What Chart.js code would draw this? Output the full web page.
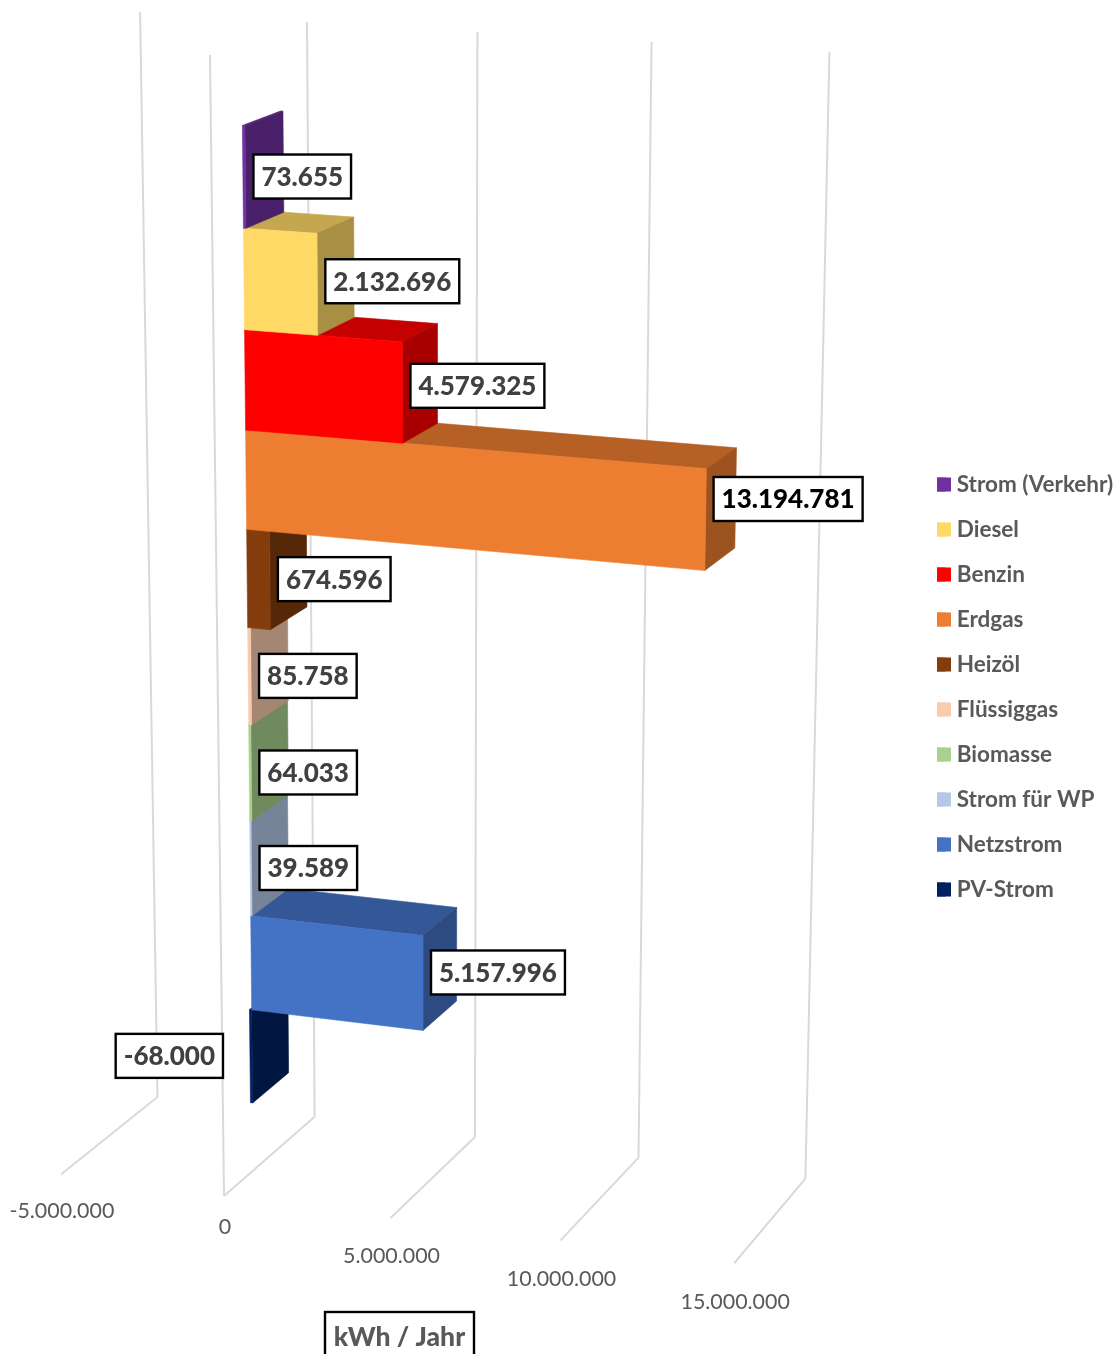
<!DOCTYPE html>
<html>
<head>
<meta charset="utf-8">
<title>kWh / Jahr</title>
<script src="https://cdn.jsdelivr.net/npm/chart.js@4/dist/chart.umd.js"></script>
<style>
    html, body { margin: 0; padding: 0; background: #fff; overflow: hidden; }
    canvas { display: block; }
</style>
</head>
<body>
<canvas id="chart" width="1120" height="1354"></canvas>
<script>
const categories = ['Strom (Verkehr)', 'Diesel', 'Benzin', 'Erdgas', 'Heizöl', 'Flüssiggas', 'Biomasse', 'Strom für WP', 'Netzstrom', 'PV-Strom'];
const values = [73655, 2132696, 4579325, 13194781, 674596, 85758, 64033, 39589, 5157996, -68000];
const valueLabels = ['73.655', '2.132.696', '4.579.325', '13.194.781', '674.596', '85.758', '64.033', '39.589', '5.157.996', '-68.000'];
const colors = ['#7030A0', '#FFD966', '#FF0000', '#ED7D31', '#843C0C', '#F8CBAD', '#A9D18E', '#B4C7E7', '#4472C4', '#002060'];
const xTicks = [-5000000, 0, 5000000, 10000000, 15000000];
const xTickLabels = ['-5.000.000', '0', '5.000.000', '10.000.000', '15.000.000'];
const axisTitle = 'kWh / Jahr';

const fontName = 'Lato, Carlito, sans-serif';
const textGray = '#595959';
const gridGray = '#D9D9D9';

// depth of the bars inside the box, and the part of its height they use
const barFront = 0.315, barBack = 0.71;
const barTop = 0.068, barBottom = 0.9365;

// where the legend swatches start, and how wide they are
const legendLeft = 937, swatchSize = 14, legendBoxWidth = 8.5;

// perspective of the box. X = steps of 5 million from zero, Y = 0 top..1 bottom, Z = 0 front..1 back
function project(X, Y, Z) {
    const d = 1 - 0.011 * X + 0.066 * Y + 0.047 * Z;
    return {
        x: (210 + 173.2 * X + 28.78 * Y + 111.43 * Z) / d,
        y: (55 + 10 * X + 1219.94 * Y - 31.97 * Z) / d
    };
}

function shade(hex, f) {
    const n = parseInt(hex.slice(1), 16);
    const c = [n >> 16, (n >> 8) & 255, n & 255].map(v => Math.round(v * f));
    return `rgb(${c[0]},${c[1]},${c[2]})`;
}

function quad(ctx, pts, fill) {
    ctx.beginPath();
    pts.forEach((p, i) => i ? ctx.lineTo(p.x, p.y) : ctx.moveTo(p.x, p.y));
    ctx.closePath();
    ctx.fillStyle = fill;
    ctx.fill();
    ctx.strokeStyle = fill;
    ctx.lineWidth = 0.6;
    ctx.stroke();
}

function stepsFromZero(chart, pixel) {
    const sx = chart.scales.x;
    const zero = sx.getPixelForValue(0);
    return (pixel - zero) / (sx.getPixelForValue(xTicks[2]) - zero);
}

function boxY(chart, pixel) {
    const a = chart.chartArea;
    return barTop + (pixel - a.top) / (a.bottom - a.top) * (barBottom - barTop);
}

function line(ctx, a, b) {
    ctx.beginPath();
    ctx.moveTo(a.x, a.y);
    ctx.lineTo(b.x, b.y);
    ctx.stroke();
}

function textBox(ctx, text, font, color, left, cy, w, h) {
    ctx.fillStyle = '#fff';
    ctx.fillRect(left, cy - h / 2, w, h);
    ctx.strokeStyle = '#000';
    ctx.lineWidth = 2.4;
    ctx.strokeRect(left, cy - h / 2, w, h);
    ctx.font = font;
    ctx.fillStyle = color;
    ctx.textAlign = 'center';
    ctx.textBaseline = 'middle';
    ctx.fillText(text, left + w / 2, cy + 1);
}

const box3d = {
    id: 'box3d',
    afterLayout(chart) {
        // the legend sits a little further right than the layout puts it
        const legend = chart.legend;
        const shift = legendLeft - legend.options.labels.padding - legend.left;
        legend.left += shift;
        legend.right += shift;
    },
    beforeDatasetsDraw(chart) {
        const ctx = chart.ctx;
        const sx = chart.scales.x;
        ctx.save();
        ctx.strokeStyle = gridGray;
        ctx.lineWidth = 2;
        // walls and floor
        xTicks.forEach((t, i) => {
            const X = stepsFromZero(chart, sx.getPixelForValue(t));
            const front = project(X, 1, 0);
            const back = project(X, 1, 1);
            line(ctx, front, back);
            line(ctx, back, project(X, 0, 1));
            ctx.font = '21.4px ' + fontName;
            ctx.fillStyle = textGray;
            ctx.textAlign = 'center';
            ctx.textBaseline = 'middle';
            const gap = t < 0 ? 36.5 : t === 0 ? 31 : 38.5;
            ctx.fillText(xTickLabels[i], front.x + 1, front.y + gap);
        });
        line(ctx, project(0, 0, 0), project(0, 1, 0));
        ctx.restore();
    },
    beforeDatasetDraw(chart, args) {
        const ctx = chart.ctx;
        const bars = args.meta.data;
        ctx.save();
        // lower bars first, the upper front faces cover their tops
        for (let i = bars.length - 1; i >= 0; i--) {
            const b = bars[i].getProps(['x', 'y', 'base', 'height']);
            const X0 = stepsFromZero(chart, Math.min(b.x, b.base));
            const X1 = stepsFromZero(chart, Math.max(b.x, b.base));
            const Y0 = boxY(chart, b.y - b.height / 2);
            const Y1 = boxY(chart, b.y + b.height / 2);
            const color = colors[i];
            quad(ctx, [project(X0, Y0, barFront), project(X1, Y0, barFront), project(X1, Y0, barBack), project(X0, Y0, barBack)], shade(color, 0.77));
            quad(ctx, [project(X1, Y0, barFront), project(X1, Y1, barFront), project(X1, Y1, barBack), project(X1, Y0, barBack)], shade(color, 0.66));
            quad(ctx, [project(X0, Y0, barFront), project(X1, Y0, barFront), project(X1, Y1, barFront), project(X0, Y1, barFront)], color);
        }
        ctx.restore();
        return false;
    },
    afterDatasetsDraw(chart) {
        const ctx = chart.ctx;
        const bars = chart.getDatasetMeta(0).data;
        ctx.save();
        // widen the legend boxes, the library ties the text gap to the font size
        chart.legend.legendHitBoxes.forEach((hit, i) => {
            ctx.fillStyle = colors[i];
            ctx.fillRect(legendLeft, hit.top + 4.25, swatchSize, swatchSize);
        });
        bars.forEach((bar, i) => {
            const b = bar.getProps(['x', 'y', 'height']);
            const X = stepsFromZero(chart, b.x);
            const Y = boxY(chart, b.y);
            const end = project(X, Y, barFront);
            const mid = project(X / 2, Y, barFront);
            const font = '900 26px ' + fontName;
            ctx.font = font;
            const w = ctx.measureText(valueLabels[i]).width + 16;
            const left = values[i] < 0 ? end.x - 27 - w : end.x + 8;
            const color = values[i] === Math.max(...values) ? '#000' : '#404040';
            textBox(ctx, valueLabels[i], font, color, left, mid.y - 0.5, w, 44);
        });
        textBox(ctx, axisTitle, '900 26.5px ' + fontName, textGray, 325, 1336, 149, 48);
        ctx.restore();
    }
};

new Chart(document.getElementById('chart'), {
    type: 'bar',
    data: {
        labels: categories,
        datasets: [{
            label: axisTitle,
            data: values,
            backgroundColor: colors,
            barPercentage: 1,
            categoryPercentage: 1
        }]
    },
    options: {
        indexAxis: 'y',
        responsive: false,
        animation: false,
        layout: { padding: { top: 20 } },
        scales: {
            x: { display: false, min: xTicks[0], max: xTicks[xTicks.length - 1] },
            y: { display: false }
        },
        plugins: {
            tooltip: { enabled: false },
            legend: {
                position: 'right',
                labels: {
                    boxWidth: legendBoxWidth,
                    boxHeight: swatchSize,
                    padding: 22.5,
                    color: textGray,
                    font: { family: fontName, size: 22.5, weight: 'bold' },
                    generateLabels: chart => chart.data.labels.map((text, i) => ({
                        text: text,
                        fillStyle: colors[i],
                        strokeStyle: colors[i],
                        lineWidth: 0,
                        fontColor: textGray,
                        index: i
                    }))
                }
            }
        }
    },
    plugins: [box3d]
});
</script>
</body>
</html>
